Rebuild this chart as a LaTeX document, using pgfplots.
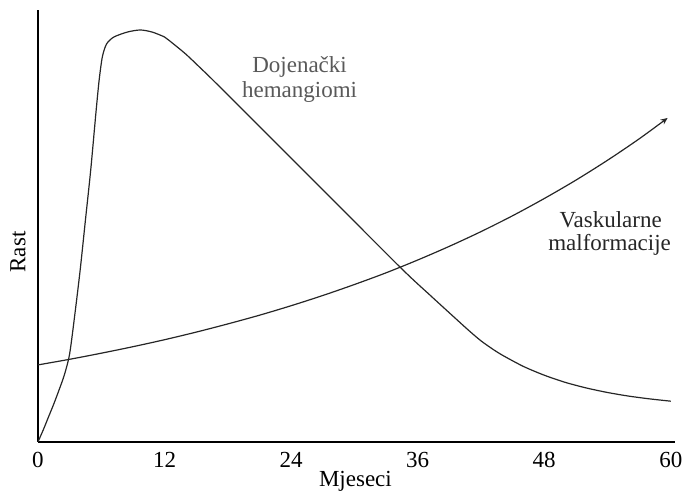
\documentclass[border=0pt]{standalone}
\usepackage{fontspec}
\setmainfont{Liberation Serif}
\usepackage{pgfplots}
\pgfplotsset{compat=1.18}
\usetikzlibrary{arrows.meta}
\begin{document}
\begin{tikzpicture}
\begin{axis}[
  name=ax,
  scale only axis,
  width=637.2pt, height=432pt,
  xmin=0, xmax=60.4, ymin=0, ymax=432,
  axis x line=bottom, axis y line=left,
  axis line style={-, line width=1.8pt, black},
  xtick={0,12,24,36,48,60},
  ytick=\empty,
  major tick length=0pt,
  /pgf/number format/assume math mode=true,
  xticklabel style={font=\fontsize{23}{26}\selectfont, yshift=-7pt},
  clip=false,
]
% Hemangioma (infantile) growth curve
\addplot[smooth, tension=0.45, line width=1.2pt, black!85] coordinates {
 (0,0) (0.5,12) (1,25) (1.5,38) (2,52) (2.5,67) (3,88) (3.5,128) (4,172)
 (4.5,222) (5,272) (5.5,330) (5.8,362) (6.1,385) (6.5,398) (7.2,405)
 (8.5,410) (9.7,412) (10.8,410) (12,405) (12.5,401) (14,388) (15.5,373)
 (17,357.6) (25.7,266) (34.31,175) (37.2,146.5) (40,119.5) (41,110) (42,101.1)
 (43,93.6) (44,86.9) (46,75.6) (48,66.7) (50,59.5) (52,53.9) (54,49.4)
 (56,45.8) (58,43.0) (60,40.7)
};
% Vascular malformation curve
\addplot[smooth, tension=0.5, line width=1.2pt, black!85, -{Stealth[length=7pt,width=6pt]}] coordinates {
 (0,77) (3,82.6) (6,88.7) (9,95.2) (12,102.2) (15,109.8) (18,118.0) (21,126.7)
 (24,136.2) (27,146.4) (30,157.4) (33,169.1) (36,181.9) (39,195.6) (42,210.3)
 (45,226.2) (48,243.4) (51,261.8) (54,281.7) (57,303.1) (59.7,324)
};
\node[font=\fontsize{23}{26}\selectfont, text=black!65, anchor=center] at (axis cs:24.8,375) {Dojenački};
\node[font=\fontsize{23}{26}\selectfont, text=black!65, anchor=center] at (axis cs:24.8,350) {hemangiomi};
\node[font=\fontsize{23}{26}\selectfont, text=black!85, anchor=center] at (axis cs:54.3,222) {Vaskularne};
\node[font=\fontsize{23}{26}\selectfont, text=black!85, anchor=center] at (axis cs:54.2,197) {malformacije};
\node[font=\fontsize{23}{26}\selectfont, anchor=base] at (axis cs:30.1,-45) {Mjeseci};
\node[font=\fontsize{23}{26}\selectfont, rotate=90, anchor=center] at (axis cs:-1.9,190) {Rast};
\end{axis}
\pgfresetboundingbox
\path[use as bounding box] ([xshift=-38pt,yshift=-51pt]ax.south west) rectangle ([xshift=8pt,yshift=10pt]ax.north east);
\end{tikzpicture}
\end{document}
